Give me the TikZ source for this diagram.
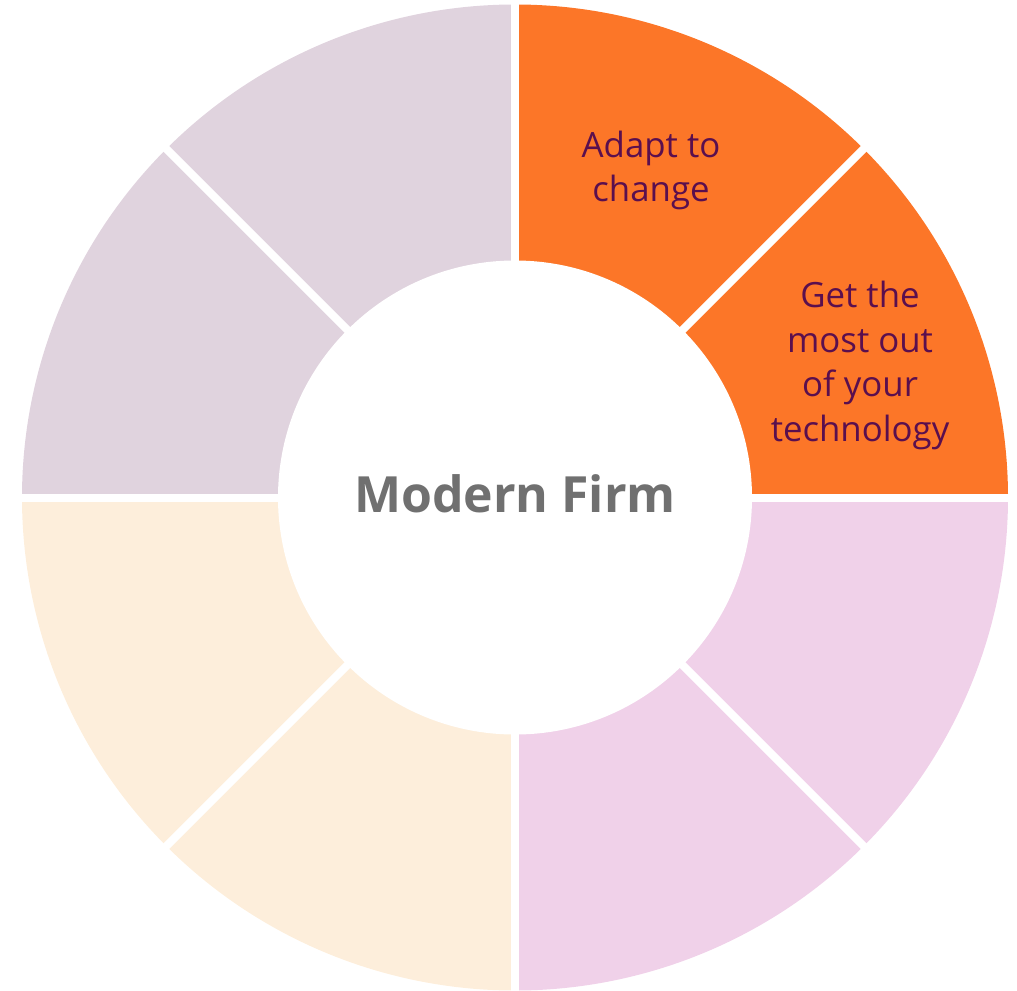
\documentclass[tikz,border=0pt]{standalone}
\usepackage{fontspec}
\setmainfont{Open Sans}
\definecolor{ringorange}{HTML}{FC7628}
\definecolor{ringmauve}{HTML}{E0D3DE}
\definecolor{ringpeach}{HTML}{FDEEDB}
\definecolor{ringpink}{HTML}{F0D1E9}
\definecolor{labelpurple}{HTML}{5A0F4E}
\definecolor{firmgray}{HTML}{707070}
\tikzset{
  seglabel/.style={text=labelpurple,align=center,font=\fontsize{9.9}{12.7}\selectfont},
  centerlabel/.style={text=firmgray,font=\fontsize{14.2}{17}\selectfont\bfseries}
}
\begin{document}
\begin{tikzpicture}
  \useasboundingbox (-5.15,-4.925) rectangle (5.02,4.975);
  % ring segments
  \foreach \a/\col in {0/ringorange,45/ringorange,90/ringmauve,135/ringmauve,
                       180/ringpeach,225/ringpeach,270/ringpink,315/ringpink}
    \fill[\col] (0,0) -- (\a:4.93) arc (\a:\a+45:4.93) -- cycle;
  \foreach \a in {0,45,...,315}
    \draw[white,line width=0.08cm] (0,0) -- (\a:5);
  \fill[white] (0,0) circle (2.37);

  \node[centerlabel] (firm) at (0,0.04) {Modern Firm};
  \node[seglabel] (adapt) at (1.36,3.27) {Adapt to\\change};
  \node[seglabel] (tech) at (3.45,1.32) {Get the\\most out\\of your\\technology};
\end{tikzpicture}
\end{document}
